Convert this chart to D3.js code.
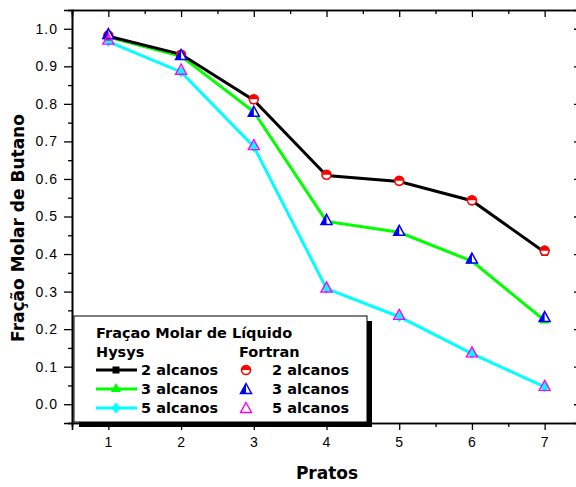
<!DOCTYPE html>
<html>
<head>
<meta charset="utf-8">
<script src="https://cdn.jsdelivr.net/npm/d3@7"></script>
<style>
  body { margin: 0; background: #fff; }
  svg { display: block; }
  .tick text { font-family: "Liberation Sans", Arial, sans-serif; font-size: 14px; letter-spacing: 1px; fill: #000; }
  .bold { font-family: "DejaVu Sans", Verdana, sans-serif; font-weight: bold; }
</style>
</head>
<body>
<svg id="chart" width="576" height="487"></svg>
<script>
// pratos (stages) and butane liquid mole fraction per case
var pratos = [1, 2, 3, 4, 5, 6, 7];
var hysys2 = [0.980, 0.932, 0.810, 0.609, 0.593, 0.542, 0.405];
var hysys3 = [0.978, 0.927, 0.779, 0.487, 0.458, 0.381, 0.223];
var hysys5 = [0.966, 0.885, 0.686, 0.308, 0.233, 0.135, 0.046];
var fortran2 = [0.982, 0.931, 0.812, 0.611, 0.595, 0.543, 0.409];
var fortran3 = [0.986, 0.930, 0.779, 0.491, 0.462, 0.388, 0.232];
var fortran5 = [0.971, 0.891, 0.690, 0.311, 0.238, 0.138, 0.049];
var yTicks = [0.0, 0.1, 0.2, 0.3, 0.4, 0.5, 0.6, 0.7, 0.8, 0.9, 1.0];

var svg = d3.select("#chart");
var margin = { left: 72, top: 10, right: 581, bottom: 423 };

var x = d3.scaleLinear().domain([0.5, 7.5]).range([margin.left, margin.right]);
var y = d3.scaleLinear().domain([-0.05, 1.05]).range([margin.bottom, margin.top]);

var xMinor = d3.range(1.5, 7.5, 1);
var yMinor = d3.range(-0.05, 1.06, 0.1);

var axes = svg.append("g");

// left axis, ticks outward
axes.append("g")
    .attr("transform", "translate(" + margin.left + ",0)")
    .call(d3.axisLeft(y).tickValues(yTicks).tickSize(8).tickPadding(6)
        .tickFormat(d3.format(".1f")));
axes.append("g")
    .attr("transform", "translate(" + margin.left + ",0)")
    .call(d3.axisLeft(y).tickValues(yMinor).tickSize(4).tickFormat(""));

// bottom axis, ticks outward
axes.append("g")
    .attr("transform", "translate(0," + margin.bottom + ")")
    .call(d3.axisBottom(x).tickValues(pratos).tickSize(7).tickPadding(7)
        .tickFormat(d3.format("d")));
axes.append("g")
    .attr("transform", "translate(0," + margin.bottom + ")")
    .call(d3.axisBottom(x).tickValues(xMinor).tickSize(4).tickFormat(""));

// top and right axes, ticks inward
axes.append("g")
    .attr("transform", "translate(0," + margin.top + ")")
    .call(d3.axisBottom(x).tickValues(pratos).tickSize(7).tickFormat(""));
axes.append("g")
    .attr("transform", "translate(0," + margin.top + ")")
    .call(d3.axisBottom(x).tickValues(xMinor).tickSize(4).tickFormat(""));
axes.append("g")
    .attr("transform", "translate(" + margin.right + ",0)")
    .call(d3.axisLeft(y).tickValues(yTicks).tickSize(7).tickFormat(""));
axes.append("g")
    .attr("transform", "translate(" + margin.right + ",0)")
    .call(d3.axisLeft(y).tickValues(yMinor).tickSize(4).tickFormat(""));

axes.selectAll(".domain").attr("stroke", "#000").attr("stroke-width", 1.6);
axes.selectAll(".tick line").attr("stroke", "#000").attr("stroke-width", 1.3);

// axis titles
svg.append("text")
    .attr("class", "bold")
    .attr("x", 327).attr("y", 479)
    .attr("text-anchor", "middle")
    .attr("font-size", 17)
    .text("Pratos");

svg.append("text")
    .attr("class", "bold")
    .attr("transform", "translate(24,228) rotate(-90)")
    .attr("text-anchor", "middle")
    .attr("font-size", 17)
    .text("Fração Molar de Butano");

var line = d3.line()
    .x(function(d, i) { return x(pratos[i]); })
    .y(function(d) { return y(d); });

// symbol drawers, centred at 0,0
var drawSquare = function(g, s) {
    g.append("rect").attr("x", -s / 2).attr("y", -s / 2).attr("width", s).attr("height", s)
        .attr("fill", "#000");
};
var drawTri = function(g, s, color) {
    var tri = d3.symbol().type(d3.symbolTriangle).size(s * s * 0.45)();
    g.append("path").attr("d", tri).attr("fill", color);
};
var drawDiamond = function(g, s, color) {
    g.append("path").attr("d", "M0," + (-s / 2 - 1) + "L" + (s / 2) + ",0L0," + (s / 2 + 1) + "L" + (-s / 2) + ",0Z")
        .attr("fill", color);
};
var drawHalfCircle = function(g, r) {
    g.append("circle").attr("r", r).attr("fill", "#fff").attr("stroke", "#f00").attr("stroke-width", 1.6);
    g.append("path").attr("d", "M" + (-r) + ",0A" + r + "," + r + " 0 0 1 " + r + ",0Z").attr("fill", "#f00");
};
var drawHalfTri = function(g, h) {
    var w = h * 0.55;
    var top = -h * 0.55, bot = h * 0.45;
    g.append("path").attr("d", "M0," + top + "L" + w + "," + bot + "L" + (-w) + "," + bot + "Z")
        .attr("fill", "#fff").attr("stroke", "#00f").attr("stroke-width", 1.5);
    g.append("path").attr("d", "M0," + top + "L0," + bot + "L" + (-w) + "," + bot + "Z").attr("fill", "#00f");
};
var drawOpenTri = function(g, h) {
    var w = h * 0.55;
    var top = -h * 0.55, bot = h * 0.45;
    g.append("path").attr("d", "M0," + top + "L" + w + "," + bot + "L" + (-w) + "," + bot + "Z")
        .attr("fill", "none").attr("stroke", "#f0f").attr("stroke-width", 1.4);
};

var hysysSeries = [
    { values: hysys2, color: "#000", mark: function(g) { drawSquare(g, 7); } },
    { values: hysys3, color: "#00ff00", mark: function(g) { drawTri(g, 10, "#00ff00"); } },
    { values: hysys5, color: "#00ffff", mark: function(g) { drawDiamond(g, 9, "#00ffff"); } }
];
var fortranSeries = [
    { values: fortran2, mark: function(g) { drawHalfCircle(g, 4.5); } },
    { values: fortran3, mark: function(g) { drawHalfTri(g, 10); } },
    { values: fortran5, mark: function(g) { drawOpenTri(g, 10); } }
];

var plot = svg.append("g");

// Hysys lines with filled markers
hysysSeries.slice().reverse().forEach(function(s) {
    plot.append("path")
        .datum(s.values)
        .attr("d", line)
        .attr("fill", "none")
        .attr("stroke", s.color)
        .attr("stroke-width", 3);
});
hysysSeries.slice().reverse().forEach(function(s) {
    s.values.forEach(function(v, i) {
        var g = plot.append("g").attr("transform", "translate(" + x(pratos[i]) + "," + y(v) + ")");
        s.mark(g);
    });
});

// Fortran points
fortranSeries.forEach(function(s) {
    s.values.forEach(function(v, i) {
        var g = plot.append("g").attr("transform", "translate(" + x(pratos[i]) + "," + y(v) + ")");
        s.mark(g);
    });
});

// legend box with drop shadow
var legend = svg.append("g");
legend.append("rect").attr("x", 79).attr("y", 321).attr("width", 293).attr("height", 106).attr("fill", "#000");
legend.append("rect").attr("x", 74).attr("y", 316).attr("width", 293).attr("height", 106)
    .attr("fill", "#fff").attr("stroke", "#000").attr("stroke-width", 1);

var legendTitle = ["Fraçao Molar de Líquido"];
var legendHeads = ["Hysys", "Fortran"];
var legendLabels = ["2 alcanos", "3 alcanos", "5 alcanos"];
var legendFont = 14.5;

legend.append("text").attr("class", "bold").attr("font-size", legendFont)
    .attr("x", 96).attr("y", 338).text(legendTitle[0]);
legend.append("text").attr("class", "bold").attr("font-size", legendFont)
    .attr("x", 96).attr("y", 357).text(legendHeads[0]);
legend.append("text").attr("class", "bold").attr("font-size", legendFont)
    .attr("x", 239).attr("y", 357).text(legendHeads[1]);

legendLabels.forEach(function(lbl, i) {
    var ly = 370 + i * 19;
    legend.append("line").attr("x1", 96).attr("x2", 137).attr("y1", ly).attr("y2", ly)
        .attr("stroke", hysysSeries[i].color).attr("stroke-width", 3);
    hysysSeries[i].mark(legend.append("g").attr("transform", "translate(116," + ly + ")"));
    legend.append("text").attr("class", "bold").attr("font-size", legendFont)
        .attr("x", 141).attr("y", ly + 5).text(lbl);
    fortranSeries[i].mark(legend.append("g").attr("transform", "translate(246," + ly + ")"));
    legend.append("text").attr("class", "bold").attr("font-size", legendFont)
        .attr("x", 272).attr("y", ly + 5).text(lbl);
});
</script>
</body>
</html>
